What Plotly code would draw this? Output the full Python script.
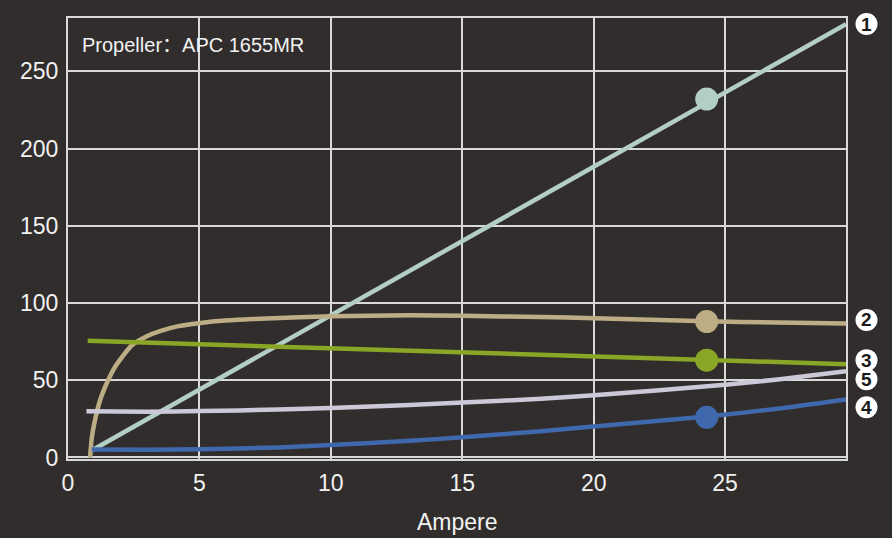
import plotly.graph_objects as go

# Data
x_power = [0.9, 29.6]
y_power = [4.5, 280.5]

x_eff = [0.84, 0.9, 1.0, 1.22, 1.5, 1.79, 2.42, 3.0, 3.5, 4.2, 5.27, 7, 10, 13, 15, 18, 20, 24.3, 27, 29.6]
y_eff = [0, 12, 22, 37, 49, 58.6, 72.5, 78.5, 81.8, 85.0, 87.6, 89.6, 91.4, 92, 91.7, 90.9, 90.2, 88.2, 87.3, 86.8]

x_thrust = [0.75, 29.6]
y_thrust = [75.5, 60.4]

x_volt = [0.9, 3, 5, 8, 10, 13, 15, 18, 20, 24.3, 27, 29.6]
y_volt = [5.2, 5.0, 5.3, 6.5, 8.0, 10.8, 13.0, 17.0, 20.0, 26.5, 31.5, 37.5]

x_temp = [0.7, 3, 5, 8, 10, 13, 15, 18, 20, 25, 27, 29.6]
y_temp = [29.9, 29.6, 30.0, 31.0, 32.0, 34.0, 35.5, 38.0, 40.2, 47.0, 50.5, 55.8]

marker_x = 24.3
marker_y = [232, 88, 63, 26]
marker_colors = ["#b3cfc5", "#bdad84", "#8aa626", "#4069ad"]

label_nums = ["1", "2", "3", "5", "4"]
label_pos_y = [280.6, 89, 63, 50.6, 32.5]

x_ticks = [0, 5, 10, 15, 20, 25]
y_ticks = [0, 50, 100, 150, 200, 250]
x_range = [0, 29.6]
y_range = [-1, 284.5]

BG = "#312d2c"
GRID = "#d9d9d9"
TXT = "#f2f2f2"
FONT = "Liberation Sans, Arial, Noto Sans CJK SC"
LW = 4.5

fig = go.Figure()
fig.add_trace(go.Scatter(x=x_power, y=y_power, mode="lines",
                         line=dict(color="#b3cfc5", width=LW)))
fig.add_trace(go.Scatter(x=x_eff, y=y_eff, mode="lines",
                         line=dict(color="#bdad84", width=LW, shape="spline", smoothing=0.6)))
fig.add_trace(go.Scatter(x=x_thrust, y=y_thrust, mode="lines",
                         line=dict(color="#8aa626", width=LW)))
fig.add_trace(go.Scatter(x=x_temp, y=y_temp, mode="lines",
                         line=dict(color="#cbc8d8", width=LW, shape="spline", smoothing=0.6)))
fig.add_trace(go.Scatter(x=x_volt, y=y_volt, mode="lines",
                         line=dict(color="#4069ad", width=LW, shape="spline", smoothing=0.6)))
fig.add_trace(go.Scatter(x=[marker_x] * len(marker_y), y=marker_y, mode="markers",
                         marker=dict(color=marker_colors, size=23, line=dict(width=0))))

fig.update_layout(
    width=892, height=538,
    paper_bgcolor=BG, plot_bgcolor=BG,
    margin=dict(l=68, r=46, t=18, b=79),
    showlegend=False,
    font=dict(family=FONT, color=TXT, size=23),
    xaxis=dict(range=x_range, tickvals=x_ticks, showgrid=True, gridcolor=GRID, gridwidth=1.5,
               zeroline=False, showline=True, linecolor=GRID, linewidth=2, mirror=True,
               ticks="", tickfont=dict(size=23, color=TXT), ticklabelstandoff=2, automargin=False),
    yaxis=dict(range=y_range, tickvals=y_ticks, showgrid=True, gridcolor=GRID, gridwidth=1.5,
               zeroline=False, showline=True, linecolor=GRID, linewidth=2, mirror=True,
               ticks="", tickfont=dict(size=23, color=TXT), ticklabelstandoff=3, automargin=False),
)

# x axis title
fig.add_annotation(x=0.5, y=0, xref="paper", yref="paper", xanchor="center", yanchor="middle",
                   yshift=-63, text="Ampere", showarrow=False,
                   font=dict(size=23, color=TXT, family=FONT))

fig.add_annotation(x=0.0154, y=0.939, xref="paper", yref="paper", xanchor="left", yanchor="middle",
                   text="Propeller：APC 1655MR", showarrow=False,
                   font=dict(size=20, color=TXT, family=FONT))

# numbered badges at the right of the plot area
for num, yy in zip(label_nums, label_pos_y):
    yp = (yy - y_range[0]) / (y_range[1] - y_range[0])
    fig.add_shape(type="circle", xref="paper", yref="paper", xsizemode="pixel", ysizemode="pixel",
                  xanchor=1.0, yanchor=yp, x0=9.5, x1=31.5, y0=-11, y1=11,
                  fillcolor="#ffffff", line=dict(width=0), layer="above")
    fig.add_annotation(x=1.0, y=yp, xref="paper", yref="paper", xanchor="center", yanchor="middle",
                       xshift=20.5, yshift=0, text="<b>" + num + "</b>", showarrow=False,
                       font=dict(size=19, color="#1a1a1a", family="Liberation Sans, Arial"))

fig.write_html("out.html", config={"displayModeBar": False},
               post_script="document.body.style.margin='0';document.body.style.background='%s';" % BG)
